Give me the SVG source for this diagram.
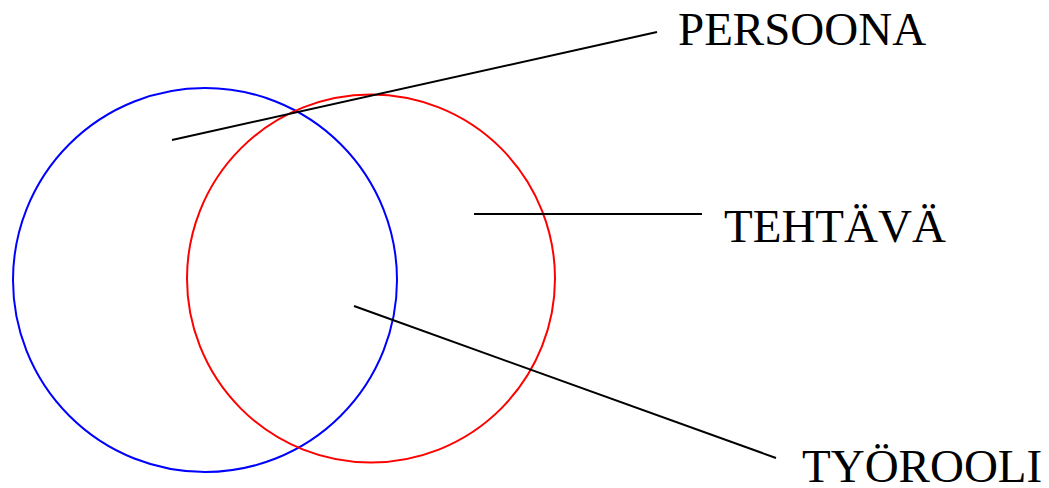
<svg xmlns="http://www.w3.org/2000/svg" width="1049" height="488" viewBox="0 0 1049 488">
<style>
.c{fill:none;stroke-width:2}
.l{stroke:#000;stroke-width:2;fill:none}
text{font-family:"Liberation Serif","Times New Roman",serif;font-size:47px;fill:#000}
</style>
<rect width="1049" height="488" fill="#fff"/>
<g id="persona-circle"><circle class="c" cx="205" cy="280" r="192" stroke="#0000ff"/></g>
<g id="task-circle"><circle class="c" cx="371" cy="278.5" r="184" stroke="#ff0000"/></g>
<g id="connectors">
<line class="l" x1="172" y1="140" x2="657" y2="32"/>
<line class="l" x1="474" y1="214" x2="702" y2="214"/>
<line class="l" x1="354" y1="306" x2="776" y2="458"/>
</g>
<g id="label-persoona"><text x="678" y="45">PERSOONA</text></g>
<g id="label-tehtava"><text x="724" y="242">TEHTÄVÄ</text></g>
<g id="label-tyorooli"><text x="802" y="482">TYÖROOLI</text></g>
</svg>
